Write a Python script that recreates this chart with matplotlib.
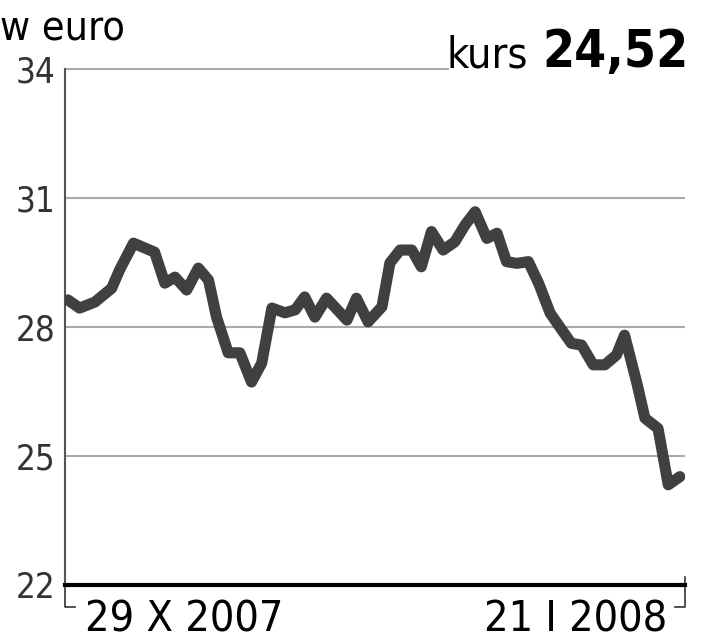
import matplotlib.pyplot as plt

# Data (x in calendar days from 29 X 2007)
days = [0.0, 1.6, 3.7, 6.0, 7.1, 9.0, 11.9, 13.3, 14.7, 16.3, 17.9, 19.3,
        20.4, 22.0, 23.6, 25.2, 26.6, 28.0, 29.8, 31.2, 32.5, 33.9, 35.5,
        38.3, 39.6, 41.2, 43.1, 44.2, 45.6, 47.2, 48.5, 49.9, 51.5, 53.1,
        54.5, 55.9, 57.5, 58.9, 60.2, 61.6, 63.2, 64.6, 66.2, 67.8, 69.1,
        70.5, 72.1, 73.7, 75.3, 76.4, 78.1, 79.2, 81.0, 82.4, 84.0]
kurs = [28.63, 28.44, 28.58, 28.90, 29.33, 29.95, 29.74, 29.02, 29.16,
        28.86, 29.37, 29.09, 28.23, 27.40, 27.40, 26.72, 27.16, 28.44,
        28.33, 28.40, 28.70, 28.23, 28.67, 28.16, 28.67, 28.12, 28.47,
        29.49, 29.79, 29.79, 29.40, 30.22, 29.79, 29.98, 30.37, 30.68,
        30.06, 30.18, 29.52, 29.48, 29.52, 29.02, 28.32, 27.93, 27.62,
        27.58, 27.12, 27.12, 27.35, 27.81, 26.69, 25.88, 25.64, 24.33,
        24.52]
y_ticks = [22, 25, 28, 31, 34]
date_labels = ["29 X 2007", "21 I 2008"]
last_value = "24,52"

plt.rcParams['font.family'] = ['DejaVu Sans']
plt.rcParams['font.stretch'] = 'condensed'

fig = plt.figure(figsize=(7.02, 6.4), dpi=100)
ax = fig.add_axes([65 / 702, 1 - 585 / 640, 620 / 702, 516 / 640])

ax.set_xlim(-0.4, 84.7)
ax.set_ylim(22, 34)

# grid lines
for v in y_ticks[1:-1]:
    ax.axhline(v, color='#aaaaaa', linewidth=1.5, zorder=1)
ax.axhline(y_ticks[-1], xmax=(448 - 65) / 620, color='#aaaaaa',
           linewidth=1.5, zorder=1, clip_on=False)

ax.plot(days, kurs, color='#404040', linewidth=8,
        solid_capstyle='round', solid_joinstyle='round', zorder=3)

for s in ['top', 'right']:
    ax.spines[s].set_visible(False)
ax.spines['left'].set_color('#555555')
ax.spines['left'].set_linewidth(1.5)
ax.spines['bottom'].set_color('black')
ax.spines['bottom'].set_linewidth(3)
ax.spines['bottom'].set_zorder(4)

ax.set_yticks(y_ticks, labels=[str(v) for v in y_ticks])
ax.tick_params(axis='y', length=0, pad=7, labelsize=25, labelcolor='#333333')
ax.set_xticks([])

# bracket ticks under the date axis
ax.plot([0, 0, 10 / 620], [0, -22 / 516, -22 / 516], transform=ax.transAxes,
        color='#333333', linewidth=1.2, clip_on=False)
ax.plot([1, 1, 1 - 10 / 620], [8 / 516, -22 / 516, -22 / 516],
        transform=ax.transAxes, color='#333333', linewidth=1.2, clip_on=False)

ax.text(20 / 620, -47 / 516, date_labels[0], transform=ax.transAxes,
        ha='left', va='baseline', fontsize=31, color='black')
ax.text(1 - 18 / 620, -47 / 516, date_labels[1], transform=ax.transAxes,
        ha='right', va='baseline', fontsize=31, color='black')

fig.text(0 / 702, 1 - 40 / 640, "w euro", ha='left', va='baseline',
         fontsize=29.5, color='black')
fig.text(528 / 702, 1 - 67 / 640, "kurs", ha='right', va='baseline',
         fontsize=31, color='black')
fig.text(689 / 702, 1 - 67 / 640, last_value, ha='right', va='baseline',
         fontsize=37, fontweight='bold', color='black')

fig.savefig("out.png", dpi=100, facecolor='white')
